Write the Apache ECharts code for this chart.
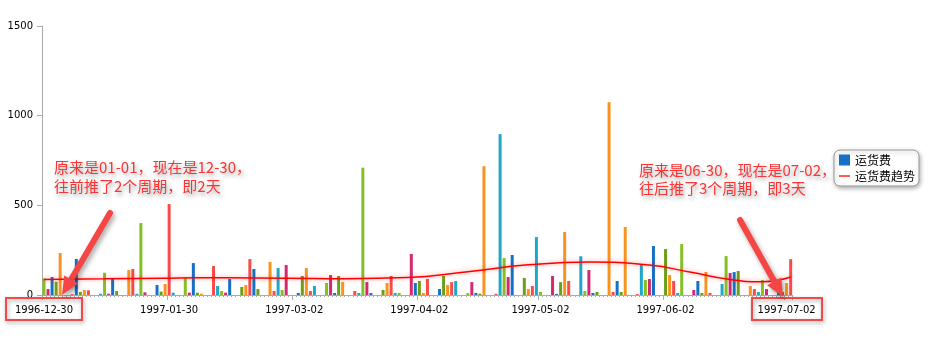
<!DOCTYPE html>
<html><head><meta charset="utf-8">
<script src="https://cdn.jsdelivr.net/npm/echarts/dist/echarts.min.js"></script>
<style>html,body{margin:0;padding:0;background:#fff}#c{width:928px;height:341px}</style>
</head><body><div id="c"></div>
<script>
// ---- data ----
const firstDate = '1996-12-30';
const lastDate = '1997-07-03';
const xTickLabels = ['1996-12-30','1997-01-30','1997-03-02','1997-04-02','1997-05-02','1997-06-02','1997-07-02'];
// one value per calendar day (null = no record), 1996-12-30 .. 1997-07-03
const freight = [
  93, 33, 100, 74, 234, null, null,
  5, 201, 17, 28, 26, null, null,
  7, 124, 7, 93, 22, null, null,
  139, 145, 7, 401, 15, null, null,
  56, 19, 61, 507, 13, null, null,
  97, 13, 178, 13, 7, null, null,
  162, 50, 22, 13, 89, null, null,
  45, 56, 200, 145, 33, null, null,
  184, 22, 150, 28, 167, null, null,
  11, 106, 150, 22, 50, null, null,
  67, 111, 11, 106, 72, null, null,
  22, 11, 710, 72, 11, null, null,
  28, 67, 106, 11, 11, null, null,
  229, 67, 78, 11, 89, null, null,
  33, 106, 56, 72, 78, null, null,
  11, 72, 11, 7, 718, null, null,
  7, 897, 206, 100, 223, null, null,
  95, 33, 50, 323, 17, null, null,
  106, 6, 72, 351, 78, null, null,
  216, 22, 139, 11, 17, null, null,
  1075, 17, 78, 17, 379, null, null,
  5, 173, 84, 89, 273, null, null,
  256, 111, 78, 11, 284, null, null,
  28, 78, 11, 128, 11, null, null,
  61, 217, 123, 128, 134, null, null,
  50, 33, 17, 84, 33, null, null,
  72, 17, 67, 200
];
const trendDates = ['1996-12-30','1997-01-14','1997-01-29','1997-02-13','1997-02-28','1997-03-15','1997-03-30','1997-04-14','1997-04-29','1997-05-14','1997-05-29','1997-06-08','1997-06-18','1997-06-26','1997-07-03'];
const trendValues = [87, 90, 94, 96, 94, 91, 97, 130, 168, 184, 167, 128, 86, 74, 100];

// ---- styles ----
const baseColors = ['#84bf23','#d4296f','#1570c6','#6c9e18','#f8931f','#f84a4a','#1ea8c8'];
const barCycle = [];
for (let j = 0; j < 32; j++) barCycle.push(baseColors[(j + 2) % 7]);
const cycleOffset = 26;

// ---- build ----
function dayList(a, b) {
  const out = []; let t = Date.parse(a + 'T00:00:00Z'); const e = Date.parse(b + 'T00:00:00Z');
  while (t <= e) { out.push(new Date(t).toISOString().slice(0, 10)); t += 86400000; }
  return out;
}
const categories = dayList(firstDate, lastDate);
const recIdx = []; let k = 0;
freight.forEach(v => { recIdx.push(v == null ? -1 : k); if (v != null) k++; });
const tickSet = new Set(xTickLabels);

const chart = echarts.init(document.getElementById('c'), null, {renderer: 'canvas'});
const font = 'DejaVu Sans';
const cjk = '"Noto Sans CJK SC"';

function arrow(tail, tip) {
  const dx = tip[0] - tail[0], dy = tip[1] - tail[1];
  const L = Math.hypot(dx, dy), ux = dx / L, uy = dy / L, nx = -uy, ny = ux;
  const hl = 18, hw = 8;
  const bx = tip[0] - ux * hl, by = tip[1] - uy * hl;
  const sh = {shadowColor: 'rgba(0,0,0,0.35)', shadowBlur: 5, shadowOffsetX: 2, shadowOffsetY: 3};
  return [
    {type: 'line', shape: {x1: tail[0], y1: tail[1], x2: bx + ux * 2, y2: by + uy * 2},
     style: Object.assign({stroke: '#f54545', lineWidth: 6, lineCap: 'round'}, sh), z: 100},
    {type: 'polygon', shape: {points: [[tip[0], tip[1]], [bx + nx * hw, by + ny * hw], [bx - nx * hw, by - ny * hw]]},
     style: Object.assign({fill: '#f54545'}, sh), z: 100}
  ];
}
function note(text, x, y) {
  return {type: 'text', x: x, y: y, z: 100,
    style: {text: text, fill: '#ff3333', font: '15px ' + cjk, verticalAlign: 'middle', textVerticalAlign: 'middle',
      textShadowColor: 'rgba(0,0,0,0.35)', textShadowBlur: 4, textShadowOffsetX: 2, textShadowOffsetY: 3}};
}
function box(x, y, w, h) {
  return {type: 'rect', shape: {x: x, y: y, width: w, height: h}, z: 100,
    style: {fill: 'rgba(255,255,255,0)', stroke: '#f24a4a', lineWidth: 2,
      shadowColor: 'rgba(0,0,0,0.35)', shadowBlur: 4, shadowOffsetX: 1, shadowOffsetY: 2}};
}

chart.setOption({
  animation: false,
  backgroundColor: '#fff',
  grid: {left: 42, right: 135.3, top: 26, bottom: 46, containLabel: false, outerBoundsMode: 'none'},
  legend: {
    orient: 'vertical', left: 834, top: 150, padding: [4, 4, 4, 5],
    itemWidth: 11, itemHeight: 11, itemGap: 4,
    backgroundColor: '#fff', borderColor: '#999', borderWidth: 1, borderRadius: 6,
    shadowColor: 'rgba(0,0,0,0.3)', shadowBlur: 4, shadowOffsetX: 1, shadowOffsetY: 2,
    textStyle: {fontSize: 12, color: '#000', fontFamily: cjk},
    data: [
      {name: '运货费', icon: 'rect', itemStyle: {color: '#1570c6'}},
      {name: '运货费趋势', icon: 'path://M0,0H12V1.4H0Z', itemStyle: {color: '#f00'}}
    ]
  },
  xAxis: [{
    type: 'category', data: categories, boundaryGap: true,
    axisLine: {show: true, lineStyle: {color: '#aaa', width: 1}},
    axisTick: {show: true, interval: 0, length: 2, lineStyle: {color: '#aaa'}},
    axisLabel: {interval: (i, v) => tickSet.has(v), color: '#000', fontFamily: font, fontSize: 10, margin: 10},
    splitLine: {show: false}
  }, {
    type: 'category', data: categories, boundaryGap: true, position: 'bottom',
    axisLine: {show: false},
    axisTick: {show: true, interval: (i, v) => tickSet.has(v), length: 5, lineStyle: {color: '#aaa'}},
    axisLabel: {show: false}, splitLine: {show: false}
  }],
  yAxis: {
    type: 'value', min: 0, max: 1500, interval: 500,
    axisLine: {show: true, lineStyle: {color: '#aaa'}},
    axisTick: {show: true, length: 5, lineStyle: {color: '#aaa'}},
    axisLabel: {color: '#000', fontFamily: font, fontSize: 10, margin: 9, formatter: v => String(v)},
    splitLine: {show: false}
  },
  series: [{
    name: '运货费', type: 'bar', xAxisIndex: 0, data: freight, barWidth: 3,
    itemStyle: {color: p => barCycle[(recIdx[p.dataIndex] + cycleOffset) % 32]},
    z: 2
  }, {
    name: '运货费趋势', type: 'line', xAxisIndex: 0,
    data: trendDates.map((d, i) => [d, trendValues[i]]),
    smooth: 0.5, symbol: 'none', showSymbol: false,
    lineStyle: {color: '#f00', width: 1.5, shadowColor: 'rgba(255,0,0,0.45)', shadowBlur: 4},
    itemStyle: {color: '#f00'}, z: 5
  }],
  graphic: [
    box(6, 298, 76, 22),
    box(752, 298, 70, 22),
    ...arrow([110, 213], [62, 295]),
    ...arrow([740, 220], [783, 297]),
    note('原来是01-01，现在是12-30，', 54, 167),
    note('往前推了2个周期，即2天', 54, 186),
    note('原来是06-30，现在是07-02，', 639, 170),
    note('往后推了3个周期，即3天', 639, 188)
  ]
});
</script></body></html>
